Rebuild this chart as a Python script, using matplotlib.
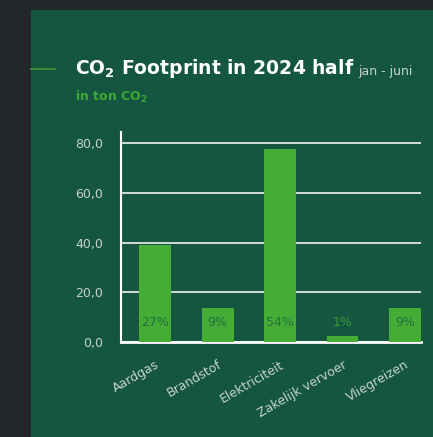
import matplotlib.pyplot as plt
from matplotlib.patches import Rectangle

# Data (ton CO2, jan - juni 2024)
categories = ["Aardgas", "Brandstof", "Elektriciteit", "Zakelijk vervoer", "Vliegreizen"]
values = [38.9, 13.5, 77.6, 2.2, 13.5]
shares = ["27%", "9%", "54%", "1%", "9%"]
yticks = [0, 20, 40, 60, 80]

bg_outer = "#22282a"
bg_panel = "#155641"
bar_green = "#45ad35"
label_gray = "#c5d3cb"

plt.rcParams["mathtext.fontset"] = "dejavusans"

fig = plt.figure(figsize=(4.33, 4.37), dpi=100, facecolor=bg_outer)
fig.patches.append(Rectangle((31 / 433, 0), 1, 1 - 10 / 437, transform=fig.transFigure,
                             facecolor=bg_panel, edgecolor="none", zorder=-1))

ax = fig.add_axes([121 / 433, 1 - 341.7 / 437, 300 / 433, 210 / 437])
ax.set_facecolor("none")
ax.set_zorder(2)

x = list(range(len(categories)))
ax.bar(x, values, width=0.51, color=bar_green, zorder=3)

for xi, v, s in zip(x, values, shares):
    col = "#23703d" if v > 10 else "#3a9a3a"
    ax.text(xi, 7.7, s, ha="center", va="center", fontsize=9, color=col, zorder=4)

ax.set_xlim(-0.55, 4.26)
ax.set_ylim(0, 84.7)
ax.set_yticks(yticks)
ax.set_yticklabels([f"{t:.1f}".replace(".", ",") for t in yticks])
ax.set_xticks(x)
ax.set_xticklabels(categories, rotation=30, ha="right", rotation_mode="anchor")
ax.tick_params(axis="both", length=0, colors=label_gray, labelsize=9)
ax.tick_params(axis="y", pad=13)
ax.tick_params(axis="x", pad=12)

ax.yaxis.grid(True, color="#dfe5e2", linewidth=1.3, zorder=1)
ax.set_axisbelow(True)
for side in ["top", "right"]:
    ax.spines[side].set_visible(False)
ax.spines["left"].set_color("white")
ax.spines["left"].set_linewidth(1.5)
ax.spines["bottom"].set_color("white")
ax.spines["bottom"].set_linewidth(2)

# Title block
fig.add_artist(plt.Line2D([31 / 433, 55 / 433], [1 - 69 / 437] * 2, color="#3d9a3a", lw=1.2))
title = fig.text(75 / 433, 1 - 69 / 437, r"$\mathbf{CO_2}$ Footprint in 2024 half",
                 fontsize=13.5, fontweight="bold", color="white", va="center")
ax.annotate("jan - juni", xy=(1, 0), xycoords=title, xytext=(3, 1.5), textcoords="offset points",
            fontsize=9, color=label_gray, va="bottom", ha="left", annotation_clip=False)
fig.text(75 / 433, 1 - 97 / 437, r"in ton $\mathbf{CO_2}$", fontsize=9, fontweight="bold",
         color="#3daa35", va="center")

fig.savefig("out.png", dpi=100, facecolor=bg_outer)
